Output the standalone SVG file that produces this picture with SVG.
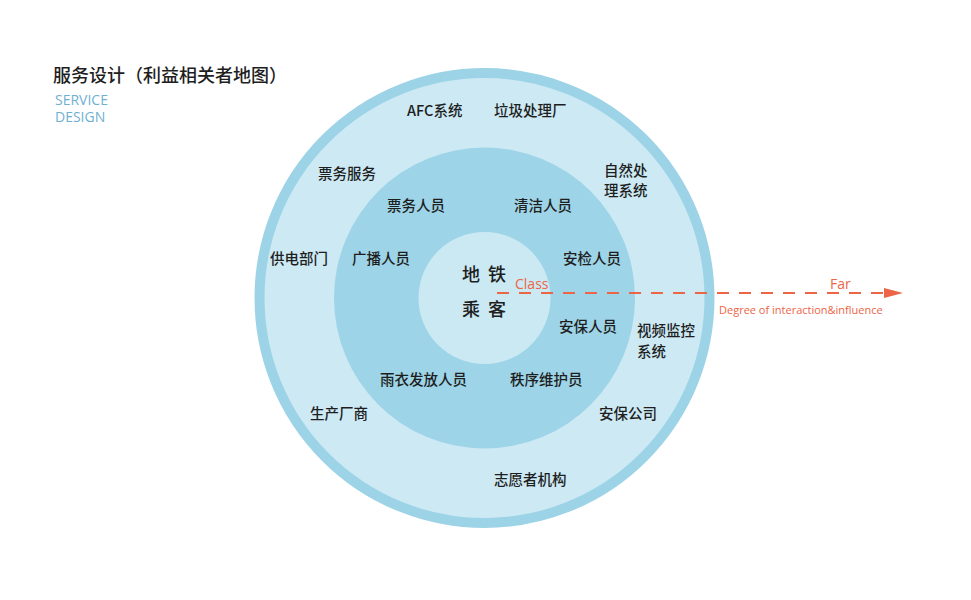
<svg xmlns="http://www.w3.org/2000/svg" width="971" height="600" viewBox="0 0 971 600">
<style>
.t{font-family:"Noto Sans CJK SC","Noto Sans",sans-serif;font-size:14.5px;font-weight:500;fill:#1e1e1e}
.c{font-family:"Noto Sans CJK SC","Noto Sans",sans-serif;font-size:18px;font-weight:500;fill:#1e1e1e}
.r{font-family:"Open Sans","Noto Sans",sans-serif;fill:#ec6546}
.s{font-family:"Open Sans","Noto Sans",sans-serif;font-size:14px;fill:#6fb0d2}
</style>
<defs>
<marker id="ah" markerWidth="10" markerHeight="10" refX="0" refY="5" orient="auto" markerUnits="userSpaceOnUse" viewBox="0 0 10 10" overflow="visible">
<path d="M0,0 L19,5 L0,10 Z" fill="#ec6546"/>
</marker>
</defs>
<rect width="971" height="600" fill="#ffffff"/>
<g id="title">
<text class="t" x="53" y="82" style="font-size:18px">服务设计（利益相关者地图）</text>
<text class="s" x="55" y="104.5">SERVICE</text>
<text class="s" x="55" y="121.5">DESIGN</text>
</g>
<g id="outer">
<circle cx="484.5" cy="298" r="225" fill="#cce9f4" stroke="#9cd3e6" stroke-width="10"/>
</g>
<g id="middle">
<circle cx="484.5" cy="298" r="150.5" fill="#9dd4e7"/>
</g>
<g id="inner">
<circle cx="484.5" cy="298" r="66" fill="#cbe9f3"/>
</g>
<g id="connectors">
<line x1="497" y1="293" x2="884" y2="293" stroke="#ec6546" stroke-width="2" stroke-dasharray="12,10" marker-end="url(#ah)"/>
</g>
<g id="axis-labels">
<text class="r" x="515" y="289" style="font-size:14px">Class</text>
<text class="r" x="830" y="289" style="font-size:14px">Far</text>
<text class="r" x="719" y="314" style="font-size:11px">Degree of interaction&amp;influence</text>
</g>
<g id="center">
<text class="c" x="471" y="280.5" text-anchor="middle">地</text>
<text class="c" x="497" y="280.5" text-anchor="middle">铁</text>
<text class="c" x="471" y="315.5" text-anchor="middle">乘</text>
<text class="c" x="497" y="315.5" text-anchor="middle">客</text>
</g>
<g id="ring2">
<text class="t" x="387" y="211">票务人员</text>
<text class="t" x="514" y="211">清洁人员</text>
<text class="t" x="352" y="264">广播人员</text>
<text class="t" x="563" y="264">安检人员</text>
<text class="t" x="559" y="332">安保人员</text>
<text class="t" x="380" y="385">雨衣发放人员</text>
<text class="t" x="510" y="385">秩序维护员</text>
</g>
<g id="ring3">
<text class="t" x="407" y="116">AFC系统</text>
<text class="t" x="494" y="116">垃圾处理厂</text>
<text class="t" x="318" y="179">票务服务</text>
<text class="t" x="604" y="176">自然处</text>
<text class="t" x="604" y="196">理系统</text>
<text class="t" x="270" y="264">供电部门</text>
<text class="t" x="637" y="336">视频监控</text>
<text class="t" x="637" y="357">系统</text>
<text class="t" x="310" y="419">生产厂商</text>
<text class="t" x="599" y="419">安保公司</text>
<text class="t" x="494" y="485">志愿者机构</text>
</g>
</svg>
